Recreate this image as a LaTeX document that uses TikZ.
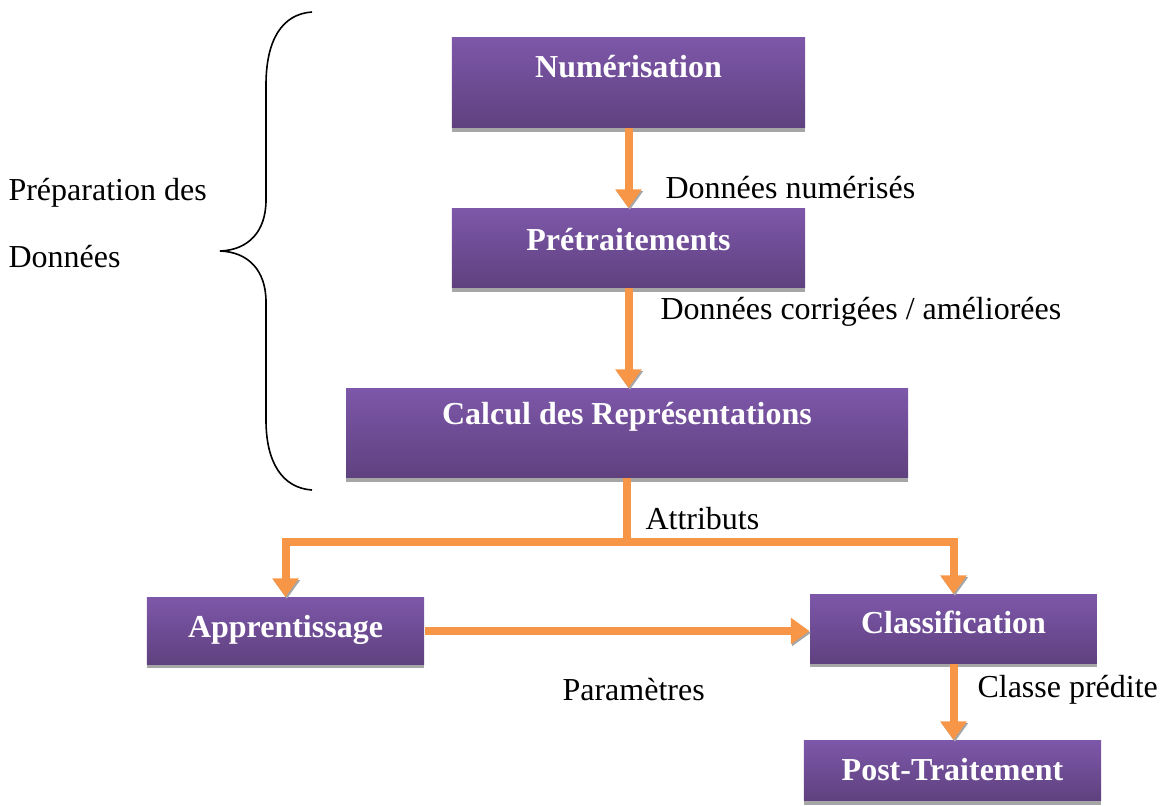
\documentclass[tikz,border=0pt]{standalone}
\usepackage{fontspec}
\setmainfont{Liberation Serif}
\usetikzlibrary{arrows.meta,positioning,calc,shadows}
\definecolor{boxtop}{HTML}{7D57A9}
\definecolor{boxbottom}{HTML}{5F417F}
\definecolor{boxshadow}{HTML}{A6A6A6}
\definecolor{flowline}{HTML}{F79646}
\tikzset{
    % Process box style
    stage/.style={
        rectangle,
        anchor=north,
        inner sep=0pt,
        minimum width=#1,
        draw=none,
        top color=boxtop,
        bottom color=boxbottom,
        font=\fontsize{12}{14}\selectfont\bfseries,
        text=white,
        general shadow={fill=boxshadow, shadow yshift=-1.5pt}
    },
    % Plain orange line
    link/.style={
        line width=3pt,
        color=flowline,
        preaction={draw=boxshadow, transform canvas={shift={(0.5pt,-0.7pt)}}}
    },
    % Orange arrow
    flow/.style={
        link,
        -{Triangle[length=7pt, width=9.5pt]}
    },
    % Label text style
    note/.style={
        anchor=west,
        inner sep=0pt,
        font=\fontsize{12}{14}\selectfont,
        text=black
    },
    % Curly brace line
    curly/.style={
        line width=0.6pt,
        black
    }
}
\begin{document}
\begin{tikzpicture}[x=0.375pt, y=-0.375pt]
        \useasboundingbox (0,0) rectangle (1169,805);

        % Stages
        \node[stage=132.4pt, text height=15pt, text depth=18.75pt] (num) at (628.5,37) {Numérisation};
        \node[stage=132.4pt, text height=15.75pt, text depth=13.9pt] (pre) at (628.5,208) {Prétraitements};
        \node[stage=210.75pt, text height=13.5pt, text depth=19.9pt] (rep) at (627,388) {Calcul des Représentations};
        \node[stage=103.9pt, text height=15pt, text depth=10.1pt] (appr) at (285.5,597) {Apprentissage};
        \node[stage=107.6pt, text height=14.6pt, text depth=11.25pt] (class) at (953.5,594) {Classification};
        \node[stage=111.4pt, text height=15pt, text depth=7.5pt] (post) at (952.5,740) {Post-Traitement};

        % Connections
        \draw[flow] (num.south) -- (pre.north);
        \draw[flow] (pre.south) -- (pre.south |- rep.north);
        \coordinate (split) at ($(rep.south)+(0,64)$);
        \draw[flow] (rep.south) -- (split) -| (appr.north);
        \draw[flow] (split) -| (class.north);
        \draw[flow] (appr.east) -- (appr.east -| class.west);
        \draw[flow] (class.south) -- (class.south |- post.north);

        % Labels
        \node[note] (l1) at (665,188) {Données numérisés};
        \node[note] (l2) at (660,312) {Données corrigées / améliorées};
        \node[note] (l3) at (645,519) {Attributs};
        \node[note] (l4) at (562,690) {Paramètres};
        \node[note] (l5) at (977,690) {Classe prédite};
        \node[note, align=left, font=\fontsize{12}{25.1}\selectfont] (prep) at (8,223) {Préparation des\\Données};

        % Brace
        \draw[curly] (312,12) .. controls (282,14) and (266,40) .. (266,85) -- (266,200)
            .. controls (266,232) and (248,250) .. (220,251)
            .. controls (248,252) and (266,270) .. (266,302) -- (266,420)
            .. controls (266,462) and (282,488) .. (312,490);

    \end{tikzpicture}
\end{document}
